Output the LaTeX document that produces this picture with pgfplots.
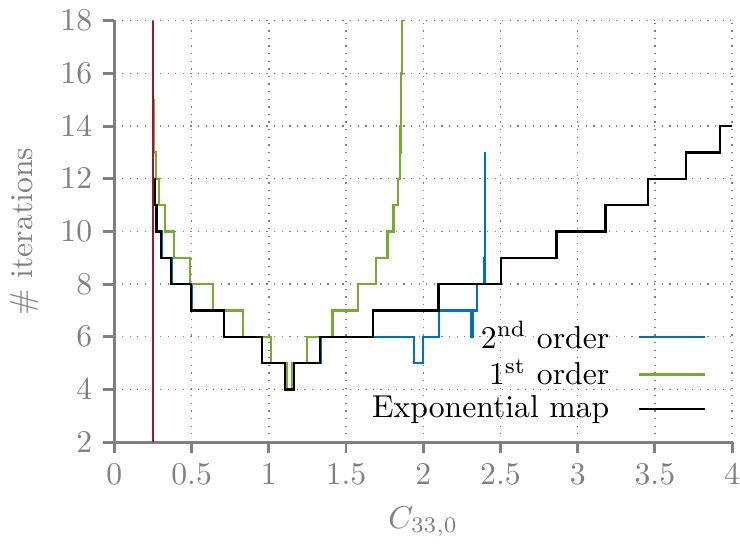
\documentclass[border=0pt]{standalone}
\usepackage{pgfplots}
\pgfplotsset{compat=1.18}
\definecolor{mblue}{RGB}{0,114,189}
\definecolor{mgreen}{RGB}{119,172,48}
\definecolor{mred}{RGB}{162,20,47}
\begin{document}
\begin{tikzpicture}
\begin{axis}[
 scale only axis, width=195pt, height=133pt,
 xmin=0, xmax=4, ymin=2, ymax=18,
 axis x line*=bottom, axis y line*=left,
 axis line style={gray, line width=0.9pt},
 tick align=outside, major tick length=3.5pt,
 tick style={gray, line width=0.9pt},
 xtick={0,0.5,...,4}, ytick={2,4,...,18},
 ticklabel style={gray}, label style={gray},
 xticklabel style={inner xsep=0pt},
 grid=major, grid style={dotted, gray, line width=0.45pt},
 xlabel={$C_{33,0}$}, ylabel={\# iterations},
 legend style={draw=none, fill=none, at={(0.975,0.015)}, anchor=south east, row sep=-2pt},
 legend cell align=right, legend plot pos=right,
 legend image code/.code={\path (0pt,0pt); \draw[#1] (7pt,0pt) -- (28pt,0pt);},
 every axis plot/.append style={line width=0.7pt},
]
\addplot[mblue, const plot] coordinates {
(0.25,12) (0.262,11) (0.275,10) (0.305,9) (0.372,8) (0.500,7) (0.712,6) (0.958,5)
(1.103,4) (1.161,5) (1.335,6) (1.942,5) (1.996,6) (2.104,7) (2.313,6) (2.315,7)
(2.317,6) (2.319,7) (2.346,8) (2.393,9) (2.395,8) (2.397,9) (2.399,8) (2.401,13)
};
\addlegendentry{2\textsuperscript{nd} order}
\addplot[mgreen, const plot] coordinates {
(0.25,15) (0.255,13) (0.270,12) (0.291,11) (0.326,10) (0.384,9) (0.488,8) (0.639,7)
(0.833,6) (1.016,5) (1.115,4) (1.150,5) (1.247,6) (1.413,7) (1.577,8) (1.696,9)
(1.769,10) (1.808,11) (1.834,12) (1.847,13) (1.853,14) (1.856,15) (1.858,16)
(1.860,17) (1.862,18) (1.864,20)
};
\addlegendentry{1\textsuperscript{st} order}
\addplot[black, const plot] coordinates {
(0.25,12) (0.262,11) (0.272,10) (0.302,9) (0.369,8) (0.496,7) (0.708,6) (0.956,5)
(1.103,4) (1.161,5) (1.329,6) (1.674,7) (2.099,8) (2.503,9) (2.863,10) (3.180,11)
(3.456,12) (3.700,13) (3.922,14) (4.0,14)
};
\addlegendentry{Exponential map}
\addplot[mred, forget plot] coordinates {(0.25,2) (0.25,18)};
\end{axis}
\end{tikzpicture}
\end{document}
